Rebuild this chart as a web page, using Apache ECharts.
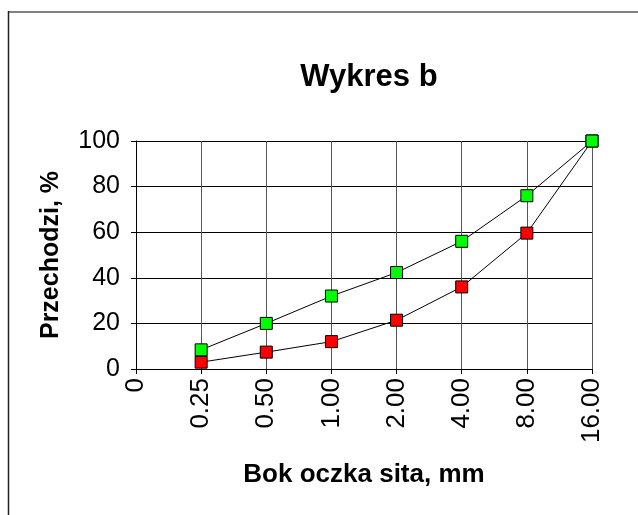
<!DOCTYPE html>
<html>
<head>
<meta charset="utf-8">
<script src="https://cdn.jsdelivr.net/npm/echarts@6/dist/echarts.min.js"></script>
<style>
  html, body { margin: 0; padding: 0; background: #fff; }
  #chart { width: 638px; height: 515px; }
</style>
</head>
<body>
<div id="chart"></div>
<script>
// sieve sizes (mm) and passing percentages
const categories = ['0', '0.25', '0.50', '1.00', '2.00', '4.00', '8.00', '16.00']
const redValues = [null, 3, 7.4, 12, 21.4, 36, 59.6, 100]
const greenValues = [null, 8.4, 20, 32, 42.3, 56, 76, 100]
const yTicks = [0, 20, 40, 60, 80, 100]

const chart = echarts.init(document.getElementById('chart'))

const markerStyle = color => ({
  color: color,
  borderColor: '#000',
  borderWidth: 1
})

chart.setOption({
  animation: false,
  backgroundColor: '#fff',
  title: {
    text: 'Wykres b',
    left: 364,
    top: 57,
    textAlign: 'center',
    textStyle: {
      fontFamily: 'Liberation Sans, Arial, sans-serif',
      fontWeight: 'bold',
      fontSize: 31,
      color: '#000'
    }
  },
  graphic: [
    {
      type: 'line',
      shape: { x1: 8, y1: 12, x2: 640, y2: 12 },
      style: { stroke: '#808080', lineWidth: 2 }
    },
    {
      type: 'line',
      shape: { x1: 8.5, y1: 11, x2: 8.5, y2: 520 },
      style: { stroke: '#222', lineWidth: 1.5 }
    }
  ],
  grid: {
    left: 136,
    right: 46,
    top: 141,
    bottom: 146
  },
  xAxis: {
    type: 'category',
    data: categories,
    boundaryGap: false,
    name: 'Bok oczka sita, mm',
    nameLocation: 'middle',
    nameGap: 93,
    nameTextStyle: {
      fontFamily: 'Liberation Sans, Arial, sans-serif',
      fontWeight: 'bold',
      fontSize: 26,
      color: '#000'
    },
    axisLine: { lineStyle: { color: '#000', width: 1 } },
    axisTick: { show: true, inside: false, length: 5, lineStyle: { color: '#000' } },
    axisLabel: {
      rotate: 90,
      margin: 9,
      interval: 0,
      fontFamily: 'Liberation Sans, Arial, sans-serif',
      fontSize: 26,
      color: '#000'
    },
    splitLine: {
      show: true,
      interval: 0,
      lineStyle: { color: '#555', width: 1 }
    }
  },
  yAxis: {
    type: 'value',
    min: 0,
    max: 100,
    interval: 20,
    name: 'Przechodzi, %',
    nameLocation: 'middle',
    nameGap: 72,
    nameTextStyle: {
      fontFamily: 'Liberation Sans, Arial, sans-serif',
      fontWeight: 'bold',
      fontSize: 25,
      color: '#000'
    },
    axisLine: { show: true, lineStyle: { color: '#000', width: 1 } },
    axisTick: { show: true, inside: false, length: 5, lineStyle: { color: '#000' } },
    axisLabel: {
      margin: 16,
      fontFamily: 'Liberation Sans, Arial, sans-serif',
      fontSize: 25,
      color: '#000',
      formatter: v => (yTicks.indexOf(v) >= 0 ? String(v) : '')
    },
    splitLine: { show: true, lineStyle: { color: '#000', width: 1 } }
  },
  series: [
    {
      name: 'czerwona',
      type: 'line',
      data: redValues,
      symbol: 'rect',
      symbolSize: 12,
      showAllSymbol: true,
      itemStyle: markerStyle('#ff0000'),
      lineStyle: { color: '#000', width: 1 }
    },
    {
      name: 'zielona',
      type: 'line',
      data: greenValues,
      symbol: 'rect',
      symbolSize: 12,
      showAllSymbol: true,
      itemStyle: markerStyle('#00ff00'),
      lineStyle: { color: '#000', width: 1 }
    }
  ]
})
</script>
</body>
</html>
